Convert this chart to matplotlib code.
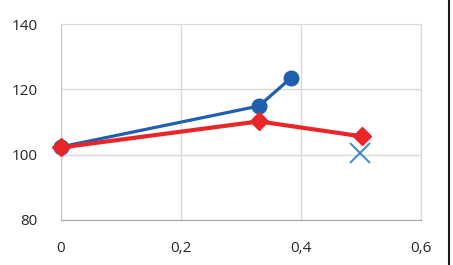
import matplotlib
matplotlib.use('Agg')
import matplotlib.pyplot as plt
from matplotlib.lines import Line2D

# data
blue_x = [0, 0.33, 0.383]
blue_y = [102.4, 114.9, 123.4]
red_x = [0, 0.33, 0.502]
red_y = [102.2, 110.2, 105.6]
cross_x = [0.498]
cross_y = [100.6]

x_ticks = [0, 0.2, 0.4, 0.6]
x_labels = ['0', '0,2', '0,4', '0,6']
y_ticks = [80, 100, 120, 140]

plt.rcParams['font.family'] = ['Open Sans', 'DejaVu Sans']

fig = plt.figure(figsize=(4.53, 2.65), dpi=100)
ax = fig.add_axes([0.1347, 0.17, 0.794, 0.739])

ax.plot(blue_x, blue_y, color='#1f5fad', lw=2.3, marker='o', ms=10.5,
        clip_on=False, zorder=3)
ax.plot(red_x, red_y, color='#e8262a', lw=3.0, marker='D', ms=9,
        clip_on=False, zorder=4)
ax.plot(cross_x, cross_y, linestyle='none', marker='x', ms=14, mew=1.4,
        color='#3a87cf', clip_on=False, zorder=3)

ax.set_xlim(0, 0.6)
ax.set_ylim(80, 140)
ax.set_xticks(x_ticks)
ax.set_xticklabels(x_labels)
ax.set_yticks(y_ticks)
ax.grid(True, color='#d9d9d9', lw=1.0)
ax.set_axisbelow(True)
for s in ['top', 'right']:
    ax.spines[s].set_color('#d9d9d9')
ax.spines['left'].set_color('#c8c8c8')
ax.spines['bottom'].set_color('#a6a6a6')
ax.tick_params(length=0, labelsize=11, colors='#262626')
ax.tick_params(axis='y', pad=17)
ax.tick_params(axis='x', pad=15)

# dark frame edge at right of the picture
fig.add_artist(Line2D([0.9905, 0.9905], [0, 1], color='#1a1a1a', lw=1.5,
                      transform=fig.transFigure))

fig.savefig('out.png', dpi=100)
